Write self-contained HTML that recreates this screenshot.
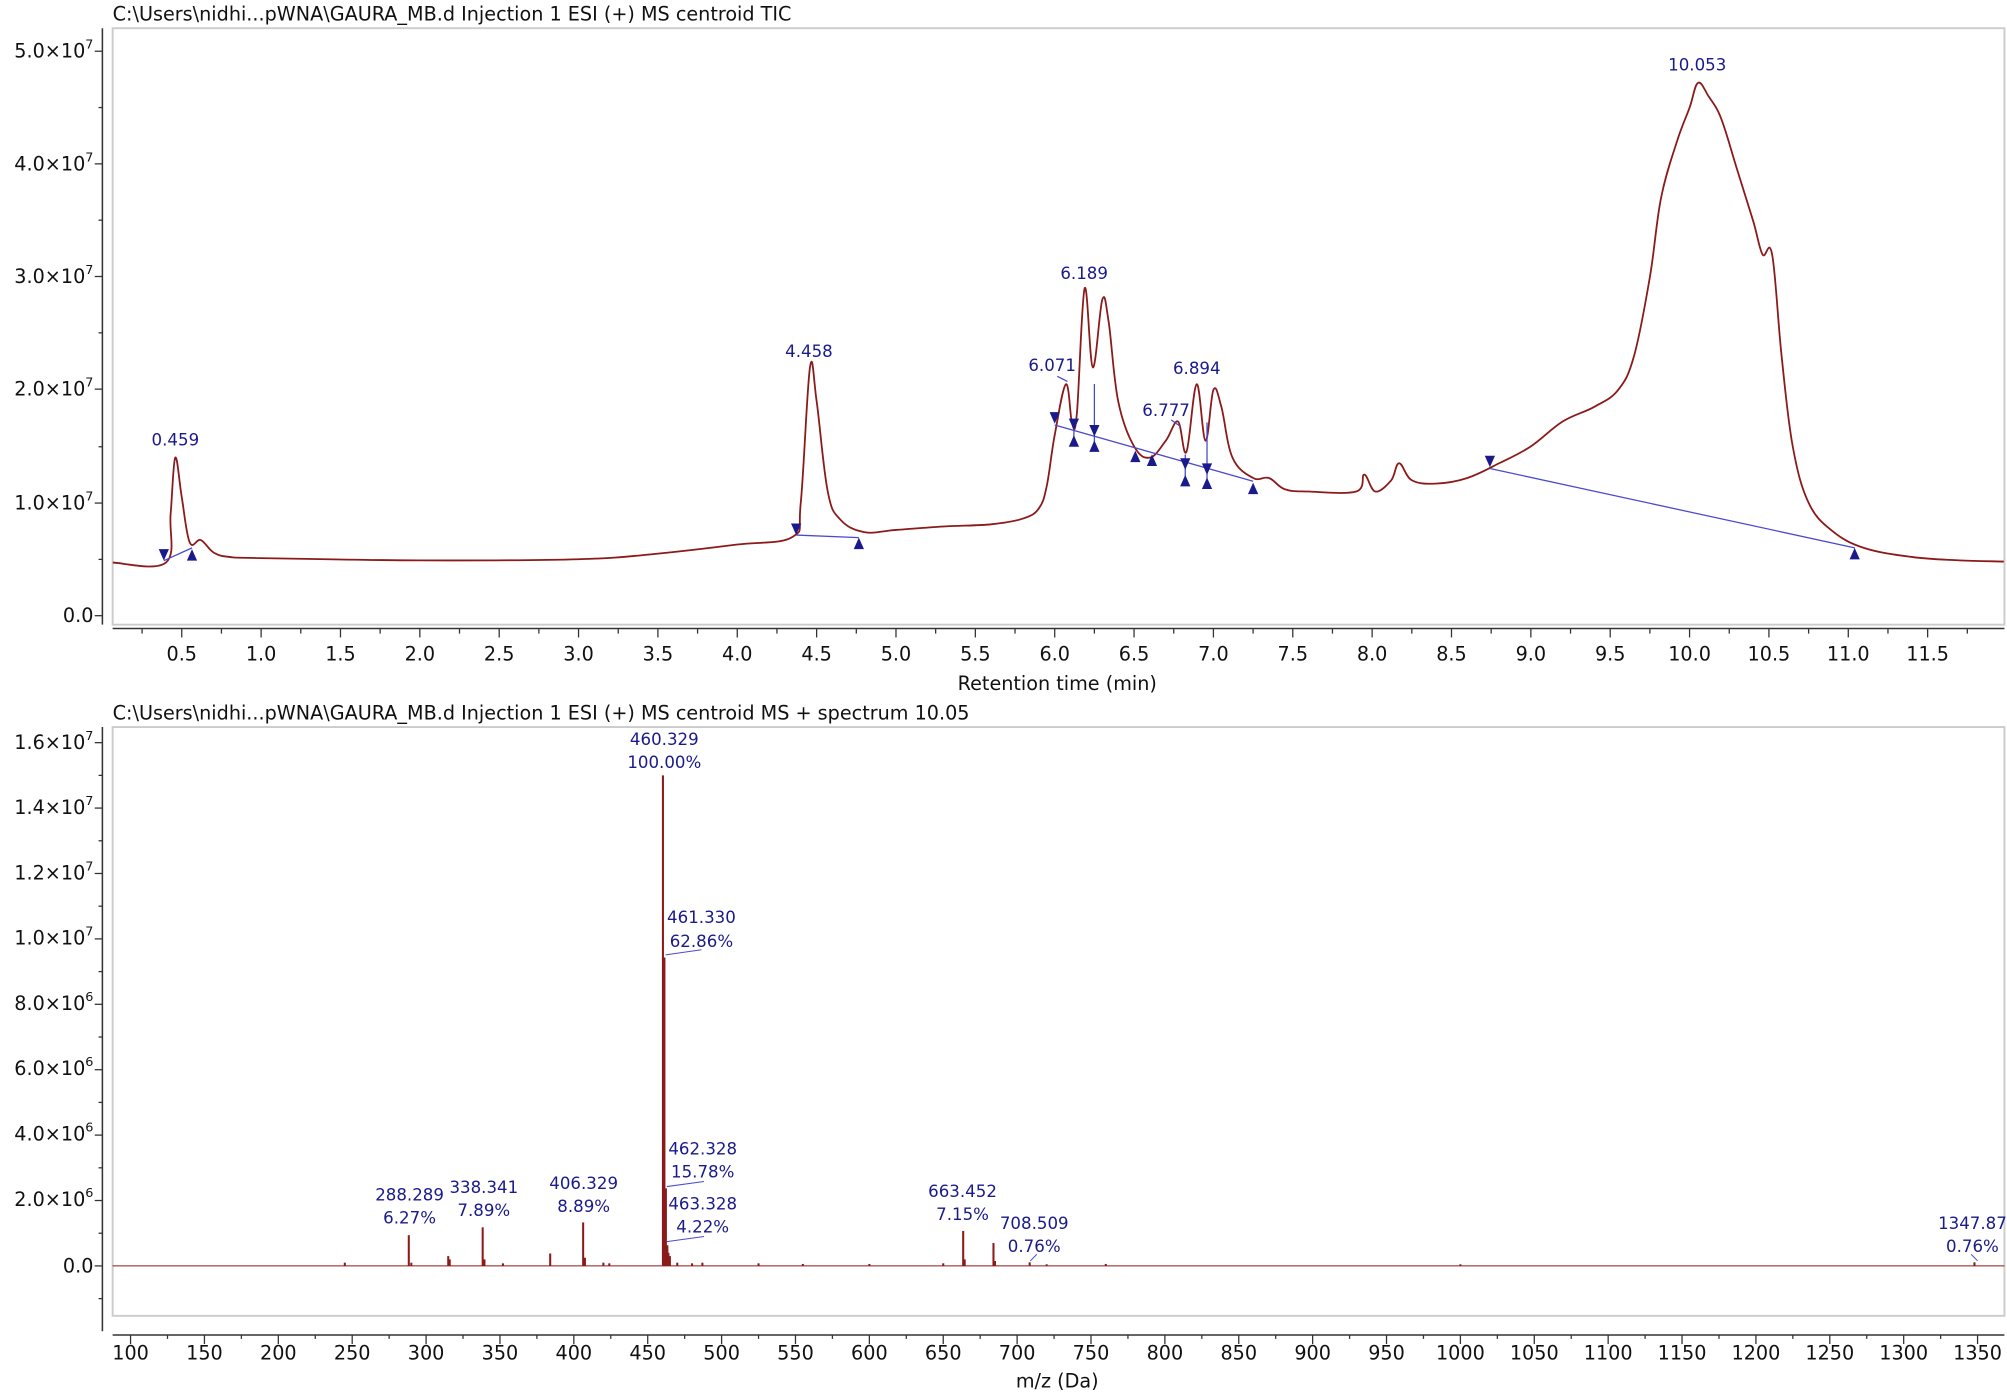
<!DOCTYPE html>
<html><head><meta charset="utf-8"><style>
html,body{margin:0;padding:0;background:#fff;}
svg{display:block;}
text{font-family:"DejaVu Sans","Liberation Sans",sans-serif;}
.t{font-size:15px;fill:#111;}
.a{font-size:15px;fill:#111;}
.b{font-size:13px;fill:#1a1a8c;}
</style></head><body>
<svg width="2007" height="1396" viewBox="0 0 1568 1090.6" xmlns="http://www.w3.org/2000/svg">
<rect width="1568" height="1091" fill="#fff"/>
<text x="88" y="16" class="t">C:\Users\nidhi...pWNA\GAURA_MB.d Injection 1 ESI (+) MS centroid TIC</text>
<rect x="88" y="22" width="1478" height="466" fill="none" stroke="#ccc" stroke-width="1.5"/>
<line x1="80" y1="22" x2="80" y2="488" stroke="#333" stroke-width="1.2"/>
<g class="a" text-anchor="end">
<text x="73" y="486">0.0</text>
<text x="73" y="398">1.0×10<tspan dy="-7" font-size="10">7</tspan></text>
<text x="73" y="309">2.0×10<tspan dy="-7" font-size="10">7</tspan></text>
<text x="73" y="221">3.0×10<tspan dy="-7" font-size="10">7</tspan></text>
<text x="73" y="133">4.0×10<tspan dy="-7" font-size="10">7</tspan></text>
<text x="73" y="45">5.0×10<tspan dy="-7" font-size="10">7</tspan></text>
</g>
<g stroke="#333" stroke-width="1">
<line x1="74" y1="481" x2="80" y2="481"/><line x1="74" y1="393" x2="80" y2="393"/><line x1="74" y1="304" x2="80" y2="304"/><line x1="74" y1="216" x2="80" y2="216"/><line x1="74" y1="128" x2="80" y2="128"/><line x1="74" y1="40" x2="80" y2="40"/>
<line x1="77" y1="437" x2="80" y2="437"/><line x1="77" y1="349" x2="80" y2="349"/><line x1="77" y1="260" x2="80" y2="260"/><line x1="77" y1="172" x2="80" y2="172"/><line x1="77" y1="84" x2="80" y2="84"/>
</g>
<line x1="88" y1="491" x2="1566" y2="491" stroke="#333" stroke-width="1.2"/>
<g id="xt1" stroke="#333"></g>
<g class="a" text-anchor="middle" id="xl1"></g>
<text x="826" y="539" class="a" text-anchor="middle">Retention time (min)</text>
<path id="tic" fill="none" stroke="#8b1a1a" stroke-width="1.4"/>
<g id="base" stroke="#4a4ad0" stroke-width="1">
<line x1="128" y1="438" x2="150" y2="428"/>
<line x1="622" y1="418" x2="671" y2="420"/>
<line x1="824" y1="332" x2="979" y2="376"/>
<line x1="1164" y1="366" x2="1449" y2="428"/>
<line x1="839" y1="333" x2="839" y2="342"/><line x1="855" y1="300" x2="855" y2="346"/>
<line x1="926" y1="355" x2="926" y2="372"/><line x1="943" y1="330" x2="943" y2="374"/>
<line x1="826" y1="294" x2="834" y2="298"/><line x1="915" y1="328" x2="922" y2="333"/>
</g>
<g id="tri" fill="#1a1a8c"></g>
<g class="b" text-anchor="middle">
<text x="137" y="348">0.459</text><text x="632" y="279">4.458</text><text x="822" y="290">6.071</text>
<text x="847" y="218">6.189</text><text x="911" y="325">6.777</text><text x="935" y="292">6.894</text>
<text x="1326" y="55">10.053</text>
</g>
<text x="88" y="562" class="t">C:\Users\nidhi...pWNA\GAURA_MB.d Injection 1 ESI (+) MS centroid MS + spectrum 10.05</text>
<rect x="88" y="568" width="1478" height="460" fill="none" stroke="#ccc" stroke-width="1.5"/>
<line x1="80" y1="568" x2="80" y2="1040" stroke="#333" stroke-width="1.2"/>
<g class="a" text-anchor="end">
<text x="73" y="994">0.0</text>
<text x="73" y="942">2.0×10<tspan dy="-7" font-size="10">6</tspan></text>
<text x="73" y="891">4.0×10<tspan dy="-7" font-size="10">6</tspan></text>
<text x="73" y="840">6.0×10<tspan dy="-7" font-size="10">6</tspan></text>
<text x="73" y="789">8.0×10<tspan dy="-7" font-size="10">6</tspan></text>
<text x="73" y="738">1.0×10<tspan dy="-7" font-size="10">7</tspan></text>
<text x="73" y="687">1.2×10<tspan dy="-7" font-size="10">7</tspan></text>
<text x="73" y="636">1.4×10<tspan dy="-7" font-size="10">7</tspan></text>
<text x="73" y="585">1.6×10<tspan dy="-7" font-size="10">7</tspan></text>
</g>
<g id="yt2" stroke="#333"></g>
<line x1="88" y1="1043" x2="1566" y2="1043" stroke="#333" stroke-width="1.2"/>
<g id="xt2" stroke="#333"></g>
<g class="a" text-anchor="middle" id="xl2"></g>
<text x="826" y="1084" class="a" text-anchor="middle">m/z (Da)</text>
<line x1="88" y1="989" x2="1566" y2="989" stroke="#8b1a1a" stroke-width="0.8"/>
<g id="sticks" stroke="#8b1a1a" stroke-width="1.6"></g>
<g stroke="#4a4ad0" stroke-width="0.8">
<line x1="520" y1="746" x2="548" y2="742"/><line x1="521" y1="927" x2="550" y2="923"/><line x1="521" y1="970" x2="550" y2="966"/><line x1="805" y1="985" x2="810" y2="980"/><line x1="1545" y1="985" x2="1540" y2="980"/>
</g>
<g class="b" text-anchor="middle">
<text x="519" y="582">460.329</text><text x="519" y="600">100.00%</text>
<text x="548" y="721">461.330</text><text x="548" y="740">62.86%</text>
<text x="549" y="902">462.328</text><text x="549" y="920">15.78%</text>
<text x="549" y="945">463.328</text><text x="549" y="963">4.22%</text>
<text x="320" y="938">288.289</text><text x="320" y="956">6.27%</text>
<text x="378" y="932">338.341</text><text x="378" y="950">7.89%</text>
<text x="456" y="929">406.329</text><text x="456" y="947">8.89%</text>
<text x="752" y="935">663.452</text><text x="752" y="953">7.15%</text>
<text x="808" y="960">708.509</text><text x="808" y="978">0.76%</text>
<text x="1541" y="960">1347.87</text><text x="1541" y="978">0.76%</text>
</g>
</svg>
<script>
const NS="http://www.w3.org/2000/svg";
function el(p,t,a,txt){const e=document.createElementNS(NS,t);for(const k in a)e.setAttribute(k,a[k]);if(txt!==undefined)e.textContent=txt;document.getElementById(p).appendChild(e);}
const X=t=>142+(t-0.5)*124, Y=v=>481-v*88.2;
for(let i=1;i<=48;i++){const t=i*0.25;const x=X(t);if(x<88||x>1566)continue;const maj=i%2==0;el("xt1","line",{x1:x,y1:491,x2:x,y2:maj?498:495});if(maj)el("xl1","text",{x:x,y:516},t.toFixed(1));}
const d=[[0.065,0.47],[0.4,0.47],[0.43,0.9],[0.459,1.4],[0.5,1.05],[0.55,0.65],[0.62,0.67],[0.7,0.56],[0.8,0.52],[1.0,0.51],[2.0,0.49],[3.0,0.5],[3.5,0.55],[4.0,0.63],[4.35,0.7],[4.4,1.0],[4.458,2.2],[4.5,1.9],[4.57,1.1],[4.65,0.85],[4.8,0.74],[5.0,0.76],[5.3,0.79],[5.6,0.81],[5.8,0.86],[5.9,0.95],[5.95,1.15],[6.0,1.6],[6.071,2.05],[6.11,1.7],[6.14,1.8],[6.189,2.9],[6.24,2.2],[6.3,2.8],[6.34,2.6],[6.4,1.9],[6.5,1.5],[6.6,1.4],[6.7,1.55],[6.777,1.72],[6.83,1.45],[6.894,2.05],[6.95,1.55],[7.0,2.0],[7.05,1.85],[7.12,1.4],[7.25,1.22],[7.35,1.22],[7.45,1.12],[7.6,1.1],[7.9,1.1],[7.95,1.25],[8.02,1.1],[8.12,1.2],[8.17,1.35],[8.25,1.2],[8.4,1.17],[8.6,1.22],[8.8,1.35],[9.0,1.5],[9.2,1.72],[9.4,1.85],[9.55,2.0],[9.65,2.3],[9.75,3.0],[9.82,3.7],[9.92,4.2],[10.0,4.5],[10.053,4.72],[10.12,4.6],[10.2,4.4],[10.3,3.95],[10.4,3.5],[10.46,3.2],[10.52,3.2],[10.58,2.3],[10.65,1.5],[10.75,1.0],[10.9,0.75],[11.1,0.6],[11.4,0.52],[11.7,0.49],[11.98,0.48]];
const P=d.map(p=>[X(p[0]),Y(p[1])]);
let s="M"+P[0][0].toFixed(1)+","+P[0][1].toFixed(1);
for(let i=0;i<P.length-1;i++){const p0=P[Math.max(0,i-1)],p1=P[i],p2=P[i+1],p3=P[Math.min(P.length-1,i+2)];const k=0.18;
const c1=[p1[0]+(p2[0]-p0[0])*k,p1[1]+(p2[1]-p0[1])*k],c2=[p2[0]-(p3[0]-p1[0])*k,p2[1]-(p3[1]-p1[1])*k];
s+=` C${c1[0].toFixed(1)},${c1[1].toFixed(1)} ${c2[0].toFixed(1)},${c2[1].toFixed(1)} ${p2[0].toFixed(1)},${p2[1].toFixed(1)}`;}
document.getElementById("tic").setAttribute("d",s);
[[128,433],[622,413],[824,326],[839,331],[855,336],[926,362],[943,366],[1164,360]].forEach(([x,y])=>el("tri","polygon",{points:`${x-4},${y-4} ${x+4},${y-4} ${x},${y+5}`}));
[[150,434],[671,425],[839,345],[855,349],[887,357],[900,360],[926,376],[943,378],[979,382],[1449,433]].forEach(([x,y])=>el("tri","polygon",{points:`${x-4},${y+4} ${x+4},${y+4} ${x},${y-5}`}));
for(let i=-2;i<=16;i++){const y=989-i*25.55;if(y<570||y>1040)continue;el("yt2","line",{x1:i%2==0?74:77,y1:y,x2:80,y2:y});}
const M=m=>102+(m-100)*1.1544;
for(let m=75;m<=1375;m+=25){const x=M(m);if(x<88||x>1566)continue;const maj=m%50==0;el("xt2","line",{x1:x,y1:1043,x2:x,y2:maj?1050:1046});if(maj)el("xl2","text",{x:x,y:1062},String(m));}
const st=[[288.3,0.94],[290,0.1],[315,0.3],[316,0.2],[338.3,1.18],[339.5,0.2],[384,0.38],[406.3,1.33],[407.5,0.25],[460.3,15],[461.3,9.43],[462.3,2.37],[463.3,0.63],[464,0.4],[465,0.3],[470,0.1],[663.5,1.07],[664.5,0.2],[684,0.7],[685,0.15],[708.5,0.11],[1347.9,0.11],[245,0.1],[352,0.08],[420,0.1],[424,0.08],[480,0.08],[487,0.1],[525,0.08],[555,0.06],[600,0.06],[650,0.08],[720,0.05],[760,0.06],[1000,0.05]];
st.forEach(([m,v])=>el("sticks","line",{x1:M(m),y1:989,x2:M(m),y2:989-v*25.55}));
</script>
</body></html>
